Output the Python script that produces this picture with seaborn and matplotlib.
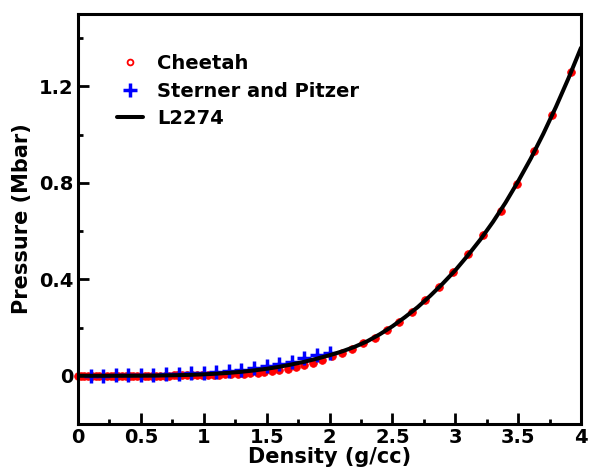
import matplotlib
matplotlib.use("Agg")
import matplotlib.pyplot as plt
from matplotlib.lines import Line2D
import seaborn as sns
import pandas as pd
from matplotlib.ticker import MultipleLocator, FormatStrFormatter

# ---- data ----
cheetah_density = [3.92, 3.77, 3.63, 3.49, 3.36, 3.22, 3.10, 2.98, 2.87, 2.76,
                   2.66, 2.55, 2.46, 2.36, 2.27, 2.18, 2.10, 2.02, 1.94, 1.87,
                   1.80, 1.73, 1.67, 1.60, 1.54, 1.48, 1.43, 1.37, 1.32, 1.27,
                   1.22, 1.17, 1.12, 1.08, 1.03, 0.99, 0.95, 0.91, 0.87, 0.83,
                   0.79, 0.76, 0.72, 0.69, 0.65, 0.62, 0.59, 0.56, 0.53, 0.50,
                   0.47, 0.44, 0.41, 0.38, 0.35, 0.32, 0.29, 0.26, 0.23, 0.20,
                   0.17, 0.14, 0.11, 0.08, 0.05, 0.02, 0.00]
cheetah_pressure = [1.260, 1.080, 0.930, 0.797, 0.683, 0.585, 0.504, 0.432, 0.369, 0.313,
                    0.266, 0.224, 0.189, 0.158, 0.135, 0.113, 0.096, 0.080, 0.066, 0.055,
                    0.045, 0.037, 0.030, 0.024, 0.019, 0.016, 0.013, 0.011, 0.009, 0.008,
                    0.007, 0.006, 0.005, 0.0045, 0.004, 0.0035, 0.003, 0.0025, 0.002, 0.0017,
                    0.0014, 0.0012, 0.001, 0.0008, 0.0006, 0.0005, 0.0004, 0.0003, 0.0003, 0.0002,
                    0.0002, 0.0001, 0.0001, 0.0001, 0.0, 0.0, 0.0, 0.0, 0.0, 0.0,
                    0.0, 0.0, 0.0, 0.0, 0.0, 0.0, 0.0]

sp_density = [0.1, 0.2, 0.3, 0.4, 0.5, 0.6, 0.7, 0.8, 0.9, 1.0,
              1.1, 1.2, 1.3, 1.4, 1.5, 1.6, 1.7, 1.8, 1.9, 2.0]
sp_pressure = [0.000, 0.001, 0.002, 0.003, 0.004, 0.005, 0.007, 0.009, 0.011, 0.013,
               0.016, 0.019, 0.024, 0.031, 0.040, 0.050, 0.058, 0.072, 0.085, 0.096]

l2274_density = [0.0, 0.1, 0.2, 0.3, 0.4, 0.5, 0.6, 0.7, 0.8, 0.9,
                 1.0, 1.1, 1.2, 1.3, 1.4, 1.5, 1.6, 1.7, 1.8, 1.9,
                 2.0, 2.1, 2.2, 2.3, 2.4, 2.5, 2.6, 2.7, 2.8, 2.9,
                 3.0, 3.1, 3.2, 3.3, 3.4, 3.5, 3.6, 3.7, 3.8, 3.9, 4.0]
l2274_pressure = [0.0, 0.0, 0.0, 0.0001, 0.0002, 0.0004, 0.0008, 0.0015, 0.0025, 0.0039,
                  0.0059, 0.0086, 0.0121, 0.0165, 0.0221, 0.0289, 0.0372, 0.047, 0.058, 0.071,
                  0.085, 0.101, 0.120, 0.143, 0.172, 0.205, 0.243, 0.284, 0.331, 0.382,
                  0.437, 0.499, 0.565, 0.638, 0.718, 0.806, 0.900, 1.003, 1.114, 1.233, 1.360]

series_labels = ["Cheetah", "Sterner and Pitzer", "L2274"]
x_label = "Density (g/cc)"
y_label = "Pressure (Mbar)"

# ---- styling ----
sns.set_theme(style="ticks")
plt.rcParams['font.family'] = ['DejaVu Sans']
plt.rcParams['font.weight'] = 'bold'
for k in ['text.color', 'axes.labelcolor', 'xtick.color', 'ytick.color', 'axes.edgecolor']:
    plt.rcParams[k] = 'black'

df_c = pd.DataFrame({"d": cheetah_density, "p": cheetah_pressure})
df_s = pd.DataFrame({"d": sp_density, "p": sp_pressure})
df_l = pd.DataFrame({"d": l2274_density, "p": l2274_pressure})

fig = plt.figure(figsize=(5.89, 4.71), dpi=100)
ax = fig.add_axes([78/589, 47/471, 503/589, 410/471])

sns.lineplot(data=df_c, x="d", y="p", ax=ax, linestyle='', marker='o',
             markersize=5.5, markerfacecolor='red', markeredgecolor='red',
             markeredgewidth=0.6, color='red', clip_on=False,
             zorder=2, sort=False, estimator=None)
sns.lineplot(data=df_s, x="d", y="p", ax=ax, linestyle='', marker='+',
             markersize=10.5, markeredgewidth=2.5, color='blue',
             markeredgecolor='blue', zorder=3,
             sort=False, estimator=None)
sns.lineplot(data=df_l, x="d", y="p", ax=ax, color='black', linewidth=2.9,
             zorder=4, sort=False, estimator=None)

ax.set_xlim(0, 4)
ax.set_ylim(-0.2, 1.5)
ax.xaxis.set_major_locator(MultipleLocator(0.5))
ax.xaxis.set_minor_locator(MultipleLocator(0.25))
ax.yaxis.set_major_locator(MultipleLocator(0.4))
ax.yaxis.set_minor_locator(MultipleLocator(0.2))
ax.xaxis.set_major_formatter(FormatStrFormatter('%g'))
ax.yaxis.set_major_formatter(FormatStrFormatter('%g'))

for s in ax.spines.values():
    s.set_linewidth(2.2)
    s.set_color('black')
    s.set_visible(True)

ax.tick_params(which='both', direction='in', top=False, right=False,
               width=2.0, colors='black', labelsize=14)
ax.tick_params(which='major', length=8, pad=3.5)
ax.tick_params(axis='x', which='major', pad=3)
ax.tick_params(which='minor', length=3.8)
for lab in ax.get_xticklabels() + ax.get_yticklabels():
    lab.set_fontweight('bold')

ax.set_xlabel(x_label, fontsize=15, fontweight='bold', labelpad=0)
ax.set_ylabel(y_label, fontsize=15, fontweight='bold', labelpad=5)

handles = [
    Line2D([], [], linestyle='', marker='o', markersize=4.2, markerfacecolor='white',
           markeredgecolor='red', markeredgewidth=1.3),
    Line2D([], [], linestyle='', marker='+', markersize=9.5, markeredgewidth=2.5,
           color='blue'),
    Line2D([], [], color='black', linewidth=2.9),
]
leg = ax.legend(handles, series_labels, loc='upper left', bbox_to_anchor=(0.0775, 0.902),
                frameon=False, borderpad=0, borderaxespad=0, handlelength=1.34,
                handletextpad=0.72, labelspacing=0.43,
                prop={'size': 14, 'weight': 'bold'})

fig.savefig("out.png", dpi=100, facecolor='white')
